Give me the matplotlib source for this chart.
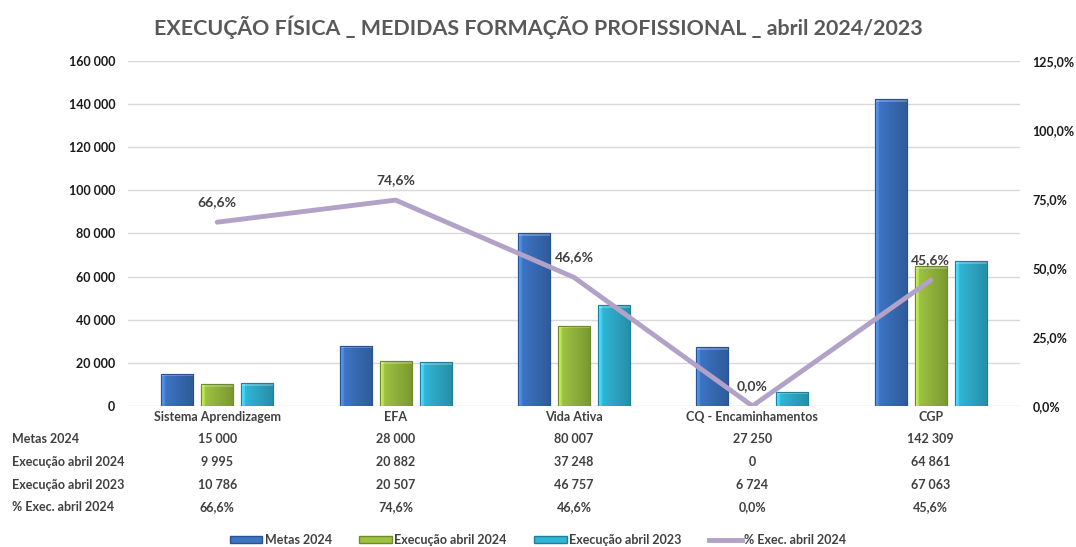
import numpy as np
import matplotlib
matplotlib.use('Agg')
import matplotlib.pyplot as plt
from matplotlib.ticker import FuncFormatter
from matplotlib.transforms import blended_transform_factory
from matplotlib.patches import Patch, Rectangle
from matplotlib.lines import Line2D
from matplotlib.colors import to_rgb

plt.rcParams['font.family'] = ['Lato', 'DejaVu Sans']
plt.rcParams['font.weight'] = 'bold'

# data
categorias = ['Sistema Aprendizagem', 'EFA', 'Vida Ativa', 'CQ - Encaminhamentos', 'CGP']
metas_2024 = [15000, 28000, 80007, 27250, 142309]
exec_abril_2024 = [9995, 20882, 37248, 0, 64861]
exec_abril_2023 = [10786, 20507, 46757, 6724, 67063]
pct_exec_2024 = [66.6, 74.6, 46.6, 0.0, 45.6]

series_nomes = ['Metas 2024', 'Execução abril 2024', 'Execução abril 2023']
linha_nome = '% Exec. abril 2024'
cores = ['#3C74C4', '#9DC240', '#30B6D6']
bordas = ['#2A5290', '#6E8A2A', '#1F8099']
cor_linha = '#B3A2C7'
txt = '#404040'

def milhares(v):
    return f'{int(round(v)):,}'.replace(',', ' ')

def pct(v):
    return f'{v:.1f}%'.replace('.', ',')

def gradiente(cor):
    # lighter on the left edge, darker to the right, like the excel bevel
    c = np.array(to_rgb(cor))
    t = np.linspace(0, 1, 40)
    f = np.where(t < 0.12, 1.25 - 0.25*t/0.12, 1.0 - 0.22*(t-0.12)/0.88)
    arr = np.clip(c[None, :]*f[:, None] + (f[:, None] > 1)*0.05, 0, 1)
    return arr[None, :, :]

fig = plt.figure(figsize=(10.76, 5.47), dpi=100)
ax = fig.add_axes([128/1076, 1-406/547, (1020-128)/1076, (406-61)/547])

x = np.arange(len(categorias))
w = 0.18
desloc = 0.224
topo = 1300
for i, vals in enumerate([metas_2024, exec_abril_2024, exec_abril_2023]):
    barras = ax.bar(x + (i-1)*desloc, vals, width=w, color=cores[i], edgecolor=bordas[i],
                    linewidth=0.8, zorder=2)
    for b in barras:
        h = b.get_height()
        if h <= 0:
            continue
        x0 = b.get_x()
        im = ax.imshow(gradiente(cores[i]), extent=[x0, x0 + b.get_width(), 0, h],
                       aspect='auto', interpolation='bilinear', zorder=2.1)
        im.set_clip_path(b)
        ax.add_patch(Rectangle((x0, h - topo), b.get_width(), topo,
                               facecolor='white', alpha=0.25, linewidth=0, zorder=2.2))
        ax.add_patch(Rectangle((x0, 0), b.get_width(), h, facecolor='none',
                               edgecolor=bordas[i], linewidth=0.8, zorder=2.3))

ax.set_xlim(-0.5, len(categorias)-0.5)
ax.set_ylim(0, 160000)
ax.set_yticks(np.arange(0, 160001, 20000))
ax.yaxis.set_major_formatter(FuncFormatter(lambda v, p: milhares(v)))
ax.grid(axis='y', color='#D9D9D9', linewidth=1, zorder=0)
ax.set_xticks([])
for s in ax.spines.values():
    s.set_visible(False)
ax.tick_params(axis='y', length=0, pad=9, labelsize=9, labelcolor='#1a1a1a')

ax2 = ax.twinx()
ax2.set_ylim(0, 125)
ax2.set_yticks(np.arange(0, 126, 25))
ax2.yaxis.set_major_formatter(FuncFormatter(lambda v, p: pct(v)))
ax2.tick_params(axis='y', length=0, pad=9, labelsize=9, labelcolor='#1a1a1a')
for s in ax2.spines.values():
    s.set_visible(False)
ax2.plot(x, pct_exec_2024, color=cor_linha, linewidth=3.5, solid_capstyle='round', zorder=3)
for xi, v in zip(x, pct_exec_2024):
    ax2.annotate(pct(v), (xi, v), xytext=(0, 10), textcoords='offset points',
                 ha='center', va='bottom', fontsize=10, color=txt)

ax.set_zorder(ax2.get_zorder() - 1)
ax.patch.set_visible(False)

fig.text(0.5, 1-27/547, 'EXECUÇÃO FÍSICA _ MEDIDAS FORMAÇÃO PROFISSIONAL _ abril 2024/2023',
         ha='center', va='center', fontsize=15.4, color='#595959')

# data table
tr = blended_transform_factory(ax.transData, fig.transFigure)
linhas = [(None, categorias),
          ('Metas 2024', [milhares(v) for v in metas_2024]),
          ('Execução abril 2024', [milhares(v) for v in exec_abril_2024]),
          ('Execução abril 2023', [milhares(v) for v in exec_abril_2023]),
          (linha_nome, [pct(v) for v in pct_exec_2024])]
ys = [417, 439, 462, 485, 507]
for (rotulo, vals), yp in zip(linhas, ys):
    yf = 1 - yp/547
    if rotulo:
        fig.text(12/1076, yf, rotulo, ha='left', va='center', fontsize=9, color=txt)
    for xi, t in zip(x, vals):
        ax.text(xi, yf, t, transform=tr, ha='center', va='center', fontsize=9, color=txt)

handles = [Patch(facecolor=cores[i], edgecolor=bordas[i], label=series_nomes[i]) for i in range(3)]
handles.append(Line2D([0], [0], color=cor_linha, linewidth=3.5, label=linha_nome))
leg = fig.legend(handles=handles, loc='center', bbox_to_anchor=(0.5, 1-540/547), ncol=4,
                 frameon=False, fontsize=9, handlelength=2.6, handleheight=0.5,
                 handletextpad=0.2, columnspacing=2.2)
for t in leg.get_texts():
    t.set_color(txt)

fig.savefig('out.png', dpi=100)
